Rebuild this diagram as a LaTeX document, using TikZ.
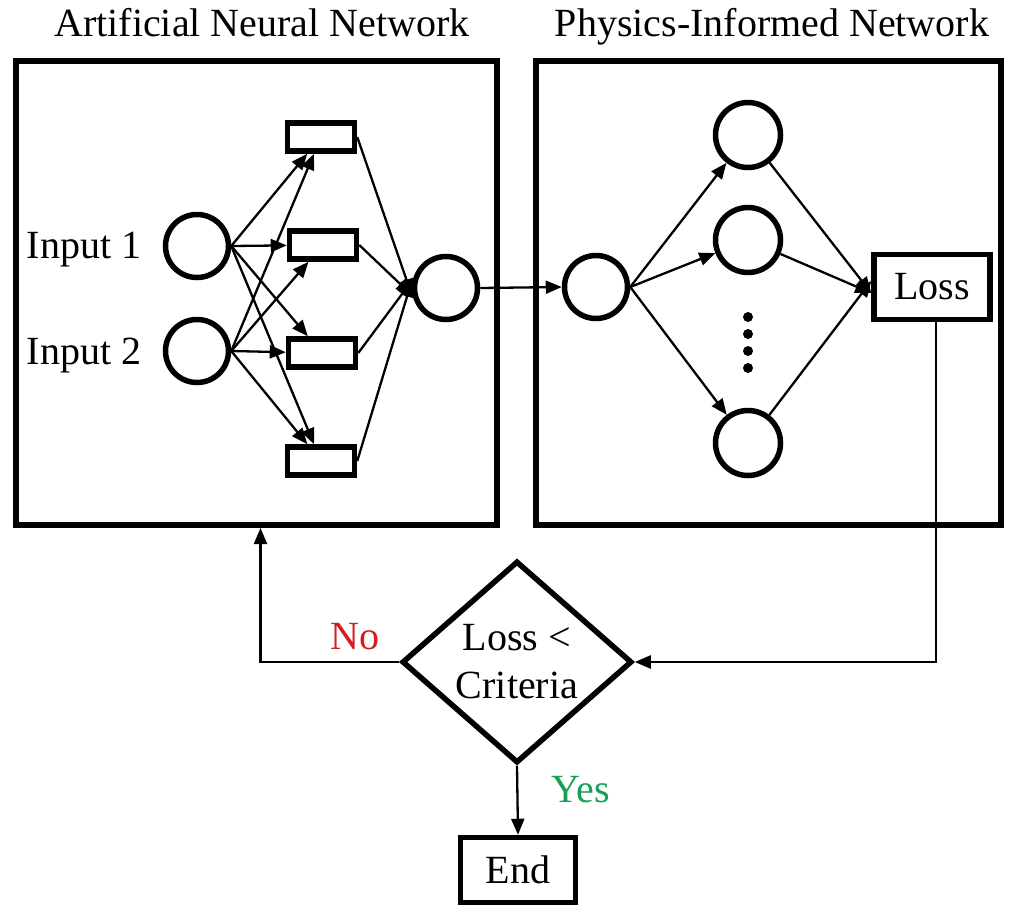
\documentclass[tikz,border=0pt]{standalone}
\usepackage{fontspec}
\setmainfont{Liberation Serif}
\usetikzlibrary{shapes.geometric,arrows.meta}
\definecolor{noRed}{RGB}{210,30,35}
\definecolor{yesGreen}{RGB}{20,160,85}
\begin{document}
\begin{tikzpicture}[x=1pt,y=-1pt,
  every node/.style={font=\fontsize{40pt}{48pt}\selectfont},
  neuron/.style={circle,draw,line width=5.5pt,minimum size=63pt,inner sep=0pt},
  hid/.style={rectangle,draw,line width=5.5pt,minimum width=67pt,minimum height=28pt,inner sep=0pt},
  panel/.style={rectangle,draw,line width=6pt,inner sep=0pt},
  boxnode/.style={rectangle,draw,line width=5.5pt,inner sep=0pt},
  conn/.style={line width=2.3pt,-{Triangle[length=16pt,width=13pt]}},
  lbl/.style={inner sep=0pt,anchor=base}]
\useasboundingbox (0,0) rectangle (1019,916);

% panels
\node[panel,minimum width=481pt,minimum height=464pt] (ann) at (256.5,293) {};
\node[panel,minimum width=465pt,minimum height=464pt] (pin) at (768.5,293) {};
\node[lbl] (t1) at (262,36) {Artificial Neural Network};
\node[lbl] (t2) at (772,36) {Physics-Informed Network};

% ANN
\node[neuron] (i1) at (197,246) {};
\node[neuron] (i2) at (197,351) {};
\node[lbl,anchor=base] (l1) at (84,258) {Input 1};
\node[lbl,anchor=base] (l2) at (84,364) {Input 2};
\node[hid] (h1) at (321,137) {};
\node[hid] (h2) at (323,245) {};
\node[hid] (h3) at (322,353) {};
\node[hid] (h4) at (321,461) {};
\node[neuron] (o) at (446,288) {};

\foreach \i in {i1,i2}{
  \foreach \h in {h1,h2,h3,h4}{
    \draw[conn] (\i.east) -- (\h);
  }
}
\draw[conn] (h1.east) -- ([yshift=-7pt]o.west);
\draw[conn] (h2.east) -- ([yshift=-7pt]o.west);
\draw[conn] (h3.east) -- ([yshift=7pt]o.west);
\draw[conn] (h4.east) -- ([yshift=7pt]o.west);

% PINN
\node[neuron] (p0) at (596,287) {};
\node[neuron,minimum size=65pt] (q1) at (748,135) {};
\node[neuron,minimum size=65pt] (q2) at (748,240) {};
\node[neuron,minimum size=65pt] (q3) at (748,443) {};
\node[boxnode,minimum width=116pt,minimum height=65pt] (loss) at (932,287) {Loss};
\foreach \y in {317,334,351,368}{ \fill (748,\y) circle (5pt); }

\draw[conn] (o.east) -- (p0.west);
\draw[conn] (p0.east) -- (q1);
\draw[conn] (p0.east) -- (q2);
\draw[conn] (p0.east) -- (q3);
\draw[conn] (q1) -- ([yshift=-6pt]loss.west);
\draw[conn] (q2) -- ([yshift=-6pt]loss.west);
\draw[conn] (q3) -- ([yshift=6pt]loss.west);

% decision
\node[diamond,draw,line width=5.5pt,minimum width=230pt,minimum height=202pt,inner sep=0pt,aspect=1.14,align=center] (dia) at (517,662) {Loss <\\Criteria};
\node[boxnode,minimum width=115pt,minimum height=65pt] (endn) at (518,870) {End};

\draw[conn] ([xshift=4pt]loss.south) |- (dia.east);
\draw[conn] (dia.west) -| ([xshift=4pt]ann.south);
\draw[conn] (dia.south) -- (endn.north);

\node[lbl,text=noRed] (no) at (355,649) {No};
\node[lbl,text=yesGreen] (yes) at (581,802) {Yes};
\end{tikzpicture}
\end{document}
